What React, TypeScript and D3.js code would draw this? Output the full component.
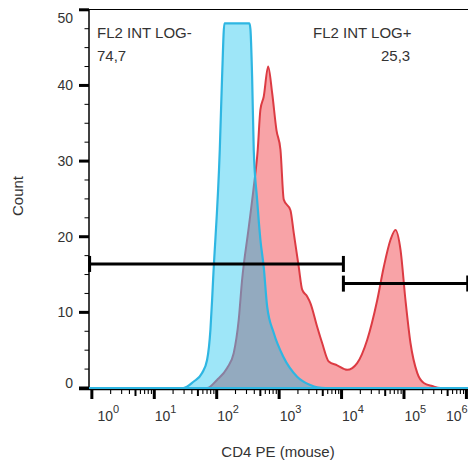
import React from 'react';
import * as d3 from 'd3';

// Control (blue) histogram: fluorescence intensity vs. count
const controlIntensity = [0.9, 29.2, 42.4, 58.3, 70.1, 79.3, 84.3, 87.5, 112, 122, 133, 334, 347, 369, 392, 444, 501, 566, 643, 818, 1172, 1941, 3162, 4074, 5500, 1.1e6];
const controlCount = [0, 0, 0.83, 1.98, 3.7, 7.7, 11.6, 14.3, 31.5, 41.2, 48.2, 48.2, 47.4, 41.2, 31.5, 24.9, 19.6, 16.0, 10.75, 7.3, 4.1, 1.5, 0.4, 0.1, 0, 0];

// Stained (red) histogram
const stainedIntensity = [0.9, 70, 101, 147, 187, 225, 255, 322, 387, 454, 501, 566, 667, 773, 906, 1050, 1186, 1517, 1714, 2061, 2339, 2812, 3177, 4064, 4887, 6237, 8492, 12303, 17783, 25704, 37239, 47424, 60814, 73114, 87902, 105682, 127057, 162929, 207491, 283139, 384592, 1.1e6];
const stainedCount = [0, 0, 1.06, 2.65, 4.6, 9.0, 14.3, 20.9, 26.2, 31.5, 36.8, 38.5, 42.5, 39.0, 34.1, 31.5, 24.9, 23.5, 20.5, 16.0, 13.0, 12.1, 11.2, 8.1, 5.95, 3.5, 3.0, 2.4, 3.3, 6.35, 11.6, 16.0, 19.6, 20.9, 18.3, 11.6, 5.95, 2.0, 0.66, 0.26, 0, 0];

const yTicks = [0, 10, 20, 30, 40, 50];
const yMinorTicks = [2.5, 5, 7.5, 12.5, 15, 17.5, 22.5, 25, 27.5, 32.5, 35, 37.5, 42.5, 45, 47.5];
const xTickExponents = [0, 1, 2, 3, 4, 5, 6];

const gateNames = ['FL2 INT LOG-', 'FL2 INT LOG+'];
const gatePercents = ['74,7', '25,3'];
const gateFrom = [0.92, 10700];
const gateTo = [10700, 1.05e6];
const gateLevel = [16.4, 13.8];

const FONT = '"Liberation Sans", Arial, Helvetica, sans-serif';
const TEXT = '#333';

export default function App() {
  const W = 468;
  const H = 466;
  const x = d3.scaleLog().domain([0.9, 1.1e6]).range([89, 469]);
  const y = d3.scaleLinear().domain([0, 50]).range([388, 9.8]);

  const ctrl = controlIntensity.map((v, i) => [x(v), y(controlCount[i])] as [number, number]);
  const stain = stainedIntensity.map((v, i) => [x(v), y(stainedCount[i])] as [number, number]);

  const area = d3.area<[number, number]>().x(d => d[0]).y0(y(0)).y1(d => d[1]).curve(d3.curveMonotoneX);
  const line = d3.line<[number, number]>().x(d => d[0]).y(d => d[1]).curve(d3.curveMonotoneX);

  const ctrlArea = area(ctrl) || '';
  const stainArea = area(stain) || '';
  const ctrlLine = line(ctrl) || '';
  const stainLine = line(stain) || '';

  const minorX: { v: number; mid: boolean }[] = [];
  for (let d = 0; d < 6; d++) {
    for (let m = 2; m <= 9; m++) minorX.push({ v: m * Math.pow(10, d), mid: m === 5 });
  }

  const x0 = 89;
  const y0 = 388;

  return (
    <svg width={W} height={H} style={{ position: 'absolute', left: 0, top: 0, background: '#fff' }} fontFamily={FONT}>
      <defs>
        <clipPath id="ctrlClip">
          <path d={ctrlArea} />
        </clipPath>
        <mask id="outsideCtrl">
          <rect x={0} y={0} width={W} height={H} fill="#fff" />
          <path d={ctrlArea} fill="#000" />
        </mask>
      </defs>

      {/* histograms */}
      <path d={stainArea} fill="#F8A3A7" />
      <path d={ctrlArea} fill="#9EE6F8" />
      <path d={stainArea} fill="#93AABF" clipPath="url(#ctrlClip)" />
      <path d={stainLine} fill="none" stroke="#DC3B43" strokeWidth={2} mask="url(#outsideCtrl)" />
      <path d={stainLine} fill="none" stroke="#8A7F9F" strokeWidth={2} clipPath="url(#ctrlClip)" />
      <path d={ctrlLine} fill="none" stroke="#2EB6E2" strokeWidth={2.2} />

      {/* frame */}
      <line x1={x0} x2={W + 1} y1={9.5} y2={9.5} stroke="#000" strokeWidth={1.2} />
      <line x1={x0} x2={x0} y1={9} y2={y0 + 1} stroke="#000" strokeWidth={1.5} />
      <line x1={79} x2={W + 1} y1={y0 + 1.5} y2={y0 + 1.5} stroke="#000" strokeWidth={1.5} />
      <line x1={x0} x2={W + 1} y1={y0} y2={y0} stroke="#2EB6E2" strokeWidth={2} />

      {/* y axis ticks */}
      {yTicks.map(t => (
        <g key={'yt' + t}>
          <line x1={79} x2={x0} y1={y(t)} y2={y(t)} stroke="#000" strokeWidth={3} />
          <text
            x={73}
            y={Math.min(382.5, Math.max(17.5, y(t)))}
            textAnchor="end"
            dominantBaseline="central"
            fontSize={14}
            fill={TEXT}
          >
            {t}
          </text>
        </g>
      ))}
      {yMinorTicks.map(t => (
        <line key={'ym' + t} x1={84.5} x2={x0} y1={y(t)} y2={y(t)} stroke="#000" strokeWidth={1} />
      ))}

      {/* x axis ticks */}
      {xTickExponents.map(e => {
        const px = x(Math.pow(10, e));
        const lx = Math.min(446, Math.max(97.5, px + 0.5));
        return (
          <g key={'xt' + e}>
            <line x1={px} x2={px} y1={y0 + 1} y2={y0 + 11} stroke="#000" strokeWidth={3} />
            <text x={lx} y={421} fontSize={14} fill={TEXT}>
              10
              <tspan dy={-8.5} fontSize={11}>
                {e}
              </tspan>
            </text>
          </g>
        );
      })}
      {minorX.map(({ v, mid }) => {
        const px = x(v);
        return (
          <line
            key={'xm' + v}
            x1={px}
            x2={px}
            y1={y0 + 1}
            y2={y0 + (mid ? 8 : 6)}
            stroke="#000"
            strokeWidth={mid ? 2 : 1.1}
          />
        );
      })}

      {/* gates */}
      {gateNames.map((g, i) => {
        const gy = y(gateLevel[i]);
        const a = x(gateFrom[i]);
        const b = x(gateTo[i]);
        return (
          <g key={g}>
            <line x1={a} x2={b} y1={gy} y2={gy} stroke="#000" strokeWidth={3} />
            <line x1={a} x2={a} y1={gy - 8} y2={gy + 8} stroke="#000" strokeWidth={3} />
            <line x1={b} x2={b} y1={gy - 8} y2={gy + 8} stroke="#000" strokeWidth={3} />
          </g>
        );
      })}

      {/* gate labels */}
      <text x={97} y={37.7} fontSize={15} fill={TEXT}>{gateNames[0]}</text>
      <text x={97} y={61} fontSize={15} fill={TEXT}>{gatePercents[0]}</text>
      <text x={313} y={37.5} fontSize={15} fill={TEXT}>{gateNames[1]}</text>
      <text x={381} y={61} fontSize={15} fill={TEXT}>{gatePercents[1]}</text>

      {/* axis titles */}
      <text transform="translate(22.7,196) rotate(-90)" textAnchor="middle" fontSize={15} fill={TEXT}>
        Count
      </text>
      <text x={278} y={457} textAnchor="middle" fontSize={15} fill={TEXT}>
        CD4 PE (mouse)
      </text>
    </svg>
  );
}
